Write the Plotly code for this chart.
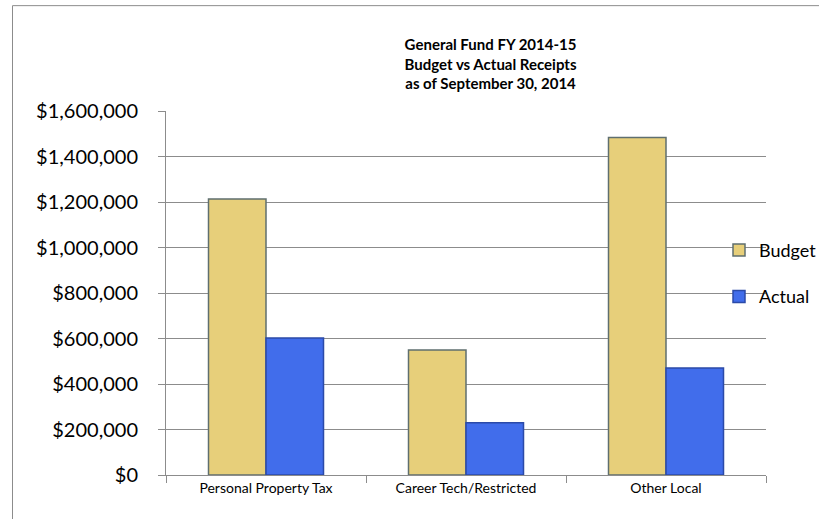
import plotly.graph_objects as go

categories = ["Personal Property Tax", "Career Tech/Restricted", "Other Local"]
budget = [1213000, 550000, 1483000]
actual = [602000, 230000, 470000]
y_ticks = [0, 200000, 400000, 600000, 800000, 1000000, 1200000, 1400000, 1600000]

FONT = "Lato"
W, H = 819, 519
L, R, T, B = 166, 53, 111, 43.5
pw, ph = W - L - R, H - T - B

def px_x(x):
    return (x - L) / pw

def px_y(y):
    return (H - B - y) / ph

fig = go.Figure()
fig.add_trace(go.Bar(
    name="Budget", x=categories, y=budget,
    marker=dict(color="#E7CF7A", line=dict(color="#5f6f6f", width=1.5)),
    legendgroup="b",
))
fig.add_trace(go.Bar(
    name="Actual", x=categories, y=actual,
    marker=dict(color="#416DEB", line=dict(color="#2b4aa8", width=1.5)),
    legendgroup="a",
))

fig.update_layout(
    width=W, height=H,
    margin=dict(l=L, r=R, t=T, b=B, autoexpand=False),
    paper_bgcolor="white", plot_bgcolor="white",
    barmode="group", bargap=0.425, bargroupgap=0,
    font=dict(family=FONT, color="#000000"),
    title=dict(
        text="<b>General Fund FY 2014-15<br>Budget vs Actual Receipts<br>as of September 30, 2014</b>",
        x=443 / W, xanchor="center", xref="paper",
        y=1 - 50 / H, yanchor="middle", yref="container",
        font=dict(family=FONT, size=15, color="#000000"),
    ),
    legend=dict(
        x=px_x(719), xanchor="left", y=px_y(232), yanchor="top",
        font=dict(family=FONT, size=18, color="#000000"),
        tracegroupgap=20, traceorder="grouped",
        bgcolor="rgba(0,0,0,0)", itemwidth=30,
    ),
    xaxis=dict(
        showline=True, linecolor="#8c8c8c", linewidth=1,
        ticks="outside", tickson="boundaries", ticklen=7, tickcolor="#8c8c8c",
        tickfont=dict(family=FONT, size=14, color="#000000"),
        showgrid=False,
    ),
    yaxis=dict(
        range=[0, 1600000], tickvals=y_ticks, tickformat="$,.0f",
        showline=True, linecolor="#8c8c8c", linewidth=1,
        ticks="outside", ticklen=7, tickcolor="#8c8c8c",
        showgrid=True, gridcolor="#8c8c8c", gridwidth=1,
        zeroline=False,
        tickfont=dict(family=FONT, size=20, color="#000000"),
        ticklabelstandoff=16,
    ),
    shapes=[dict(
        type="rect", xref="paper", yref="paper",
        x0=px_x(12.5), x1=px_x(840), y0=px_y(540), y1=px_y(5.5),
        line=dict(color="#8c8c8c", width=1), fillcolor="rgba(0,0,0,0)",
        layer="below",
    )],
)

fig.write_html("out.html", config={"displayModeBar": False},
               post_script="document.body.style.margin='0';")
